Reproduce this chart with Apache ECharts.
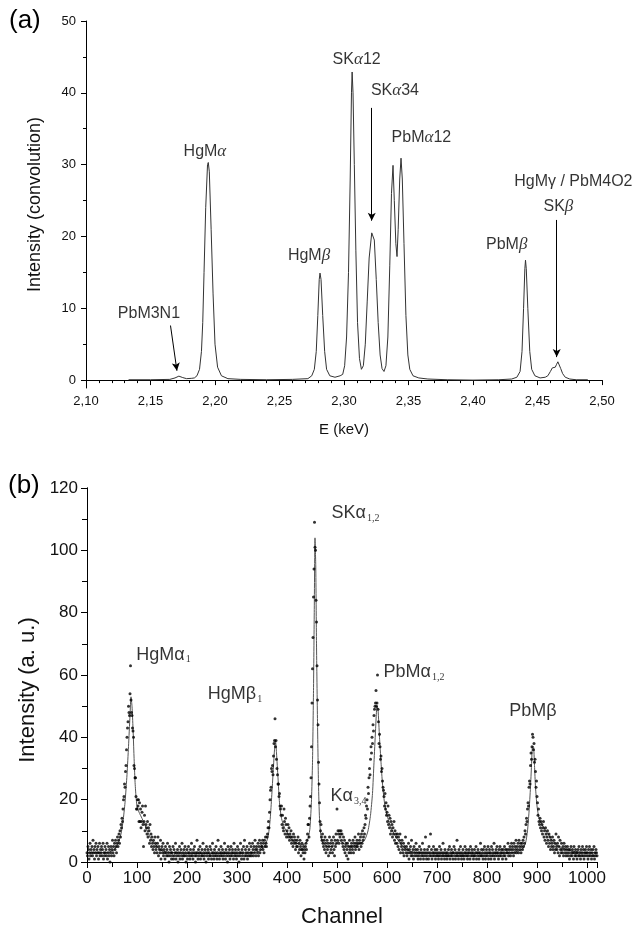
<!DOCTYPE html>
<html><head><meta charset="utf-8">
<script src="https://cdn.jsdelivr.net/npm/echarts@6/dist/echarts.min.js"></script>
<style>html,body{margin:0;padding:0;background:#fff}#c{width:638px;height:929px}</style>
</head><body><div id="c"></div>
<script>
// ---------- (a) convolution spectrum ----------
const convE = [2.133,2.150,2.165,2.169,2.172,2.175,2.178,2.182,2.184,2.186,2.188,2.1895,2.1905,2.1915,2.1928,2.1942,2.1948,2.1956,2.197,2.1985,2.200,2.202,2.205,2.210,2.220,2.240,2.260,2.272,2.275,2.277,2.2785,2.2797,2.2808,2.2814,2.2822,2.2835,2.285,2.2865,2.289,2.293,2.297,2.299,2.3005,2.302,2.3035,2.3048,2.3058,2.3063,2.307,2.308,2.3092,2.3105,2.312,2.3135,2.315,2.3165,2.318,2.3195,2.3215,2.3225,2.3235,2.325,2.3265,2.328,2.3295,2.331,2.3325,2.334,2.3355,2.3368,2.338,2.339,2.3402,2.3411,2.342,2.3432,2.3442,2.3452,2.3465,2.348,2.3495,2.351,2.3535,2.358,2.365,2.380,2.400,2.420,2.430,2.434,2.4365,2.438,2.4392,2.4402,2.4407,2.4413,2.4425,2.444,2.4455,2.448,2.452,2.456,2.458,2.460,2.4615,2.4628,2.4638,2.4648,2.4658,2.4668,2.468,2.4695,2.4715,2.475,2.480,2.489];
const convI = [0.05,0.05,0.1,0.3,0.55,0.35,0.2,0.25,0.3,0.6,1.5,4,8,15,24,30.0,30.3,29,21,12,5,1.8,0.6,0.2,0.1,0.05,0.1,0.2,0.6,1.5,4,9,14,14.9,14,9,4,1.5,0.6,0.4,0.6,0.8,2,6,15,28,40,42.9,40,30,18,8,3,1.5,2,5,11,17,20.5,20.7,19.5,14,8,3.5,1.6,1.2,2,6,16,26,29.9,25,19,17.2,21,28,30.9,28,19,9,3.5,1.5,0.6,0.3,0.15,0.05,0.0,0.05,0.15,0.4,1.2,4,10,15.5,16.7,15.5,10,4,1.5,0.6,0.3,0.4,0.6,1.2,1.7,1.85,1.8,2.2,2.55,2.3,1.6,0.9,0.4,0.15,0.05,0.05];
const labelsA = ['PbM3N1','HgM{i|α}','HgM{i|β}','SK{i|α}12','SK{i|α}34','PbM{i|α}12','PbM{i|β}','HgMγ / PbM4O2','SK{i|β}'];
const labelsAE = [2.1488,2.1922,2.2729,2.3098,2.3395,2.360,2.4261,2.4778,2.4662];
const labelsAI = [9.3,31.8,17.4,44.6,40.3,33.8,18.9,27.6,24.1];
const arrowsA = [[[2.1655,7.6],[2.1705,1.3]],[[2.3215,37.9],[2.3215,22.2]],[[2.4649,22.3],[2.4649,3.2]]];
const ticksA_x = {min:2.10,max:2.50,step:0.05};
const ticksA_y = [0,10,20,30,40,50];
const minorA_y = [5,15,25,35,45];

// ---------- (b) measured spectrum (counts per channel, channel = index) ----------
const counts = [
// 0
3,2,5,4,1,3,6,2,4,3, 5,2,7,3,4,1,5,3,6,2, 4,3,5,1,3,6,2,4,3,5, 2,4,6,1,3,2,5,3,4,2, 6,1,3,5,2,4,0,3,5,2,
// 50
4,7,3,5,2,6,4,7,5,3, 6,8,5,7,9,6,10,8,12,11,
// 70
14,13,17,20,21,25,24,29,31,36, 40,43,45,50,48,47,54,63,52,48, 47,43,42,40,31,30,27,27,21,17,
// 100
17,20,18,20,13,19,13,17,11,13, 16,18,12,5,13,15,10,18,12,11, 9,13,8,11,10,6,12,7,9,5,
// 130
8,6,4,7,5,3,8,6,4,5, 3,6,8,2,5,4,3,7,1,4, 5,3,6,2,4,3,1,5,3,2, 4,6,2,3,0,5,2,4,3,1,
// 170
3,2,5,1,4,2,3,6,1,3, 2,4,0,3,2,5,1,3,4,2, 6,1,3,2,4,2,5,3,0,2, 4,1,3,5,2,3,1,4,2,6,
3,2,1,4,3,5,2,0,3,2, 7,3,1,4,2,3,5,1,3,2, 4,2,6,3,1,2,4,3,0,5, 2,3,4,1,3,2,5,2,4,1,
3,6,2,3,1,4,2,3,5,2, 1,3,7,2,4,1,3,2,5,3, 2,4,1,3,2,6,3,1,4,2, 3,0,5,2,3,4,1,2,5,3,
2,4,3,1,6,2,3,4,2,1, 3,5,2,4,0,3,2,6,3,1, 4,2,3,5,1,7,2,4,3,2, 5,1,3,2,4,6,2,3,5,2,
3,6,4,2,5,3,7,4,2,5, 4,3,6,2,5,7,3,4,6,5,
// 350
5,7,4,6,3,7,5,8,6,5, 8,9,11,13,11,16,20,23,24,30, 29,31,28,34,38,39,46,37,39,33, 30,28,25,25,21,22,18,17,15,18, 12,15,11,10,17,13,9,14,12,8,
// 400
10,9,12,8,11,7,9,8,10,6, 8,7,5,9,6,8,7,4,6,5, 7,5,8,3,6,4,7,5,2,4, 6,4,3,5,1,4,3,5,6,4, 7,9,12,12,8,14,
// 446
18,21,27,37,51,62,72,85,94,109,101,100,84,77,63,52,44,32,25,19,13,10,12,8,7,
// 471
9,6,5,7,4,8,6,3,5,7, 4,6,2,5,8,3,6,4,7,5, 3,6,8,4,2,7,5,9,6,
// 500
17,7,10,9,6,10,8,9,10,7, 9,6,5,8,4,7,3,5,6,2, 4,6,1,5,3,7,4,5,3,6, 5,4,7,3,6,5,8,4,6,5, 7,5,6,9,4,7,6,8,5,9,
// 550
6,10,7,8,11,9,12,15,14,18, 20,17,24,22,27,30,28,33,37,35, 40,38,44,42,47,49,50,51,55,50, 51,60,49,45,38,41,37,33,34,29, 30,26,24,23,21,18,22,17,19,15,
// 600
16,13,18,12,15,11,14,9,13,10, 12,8,11,9,13,7,10,6,9,8, 6,9,5,8,4,7,9,3,6,5, 7,4,3,6,2,5,4,8,3,5, 2,4,3,6,1,4,3,5,2,7, 3,2,4,1,5,3,2,4,6,3,
// 660
2,4,1,3,2,5,3,1,4,2, 3,6,2,1,3,4,2,8,3,1, 2,4,3,1,5,2,3,9,2,4, 1,3,2,5,3,2,4,1,3,2,
4,2,3,1,2,5,3,2,4,1, 3,2,6,2,3,1,4,2,3,2, 1,3,2,4,2,5,1,3,2,4, 2,3,1,3,5,2,4,1,3,2,
7,2,3,1,4,2,3,5,2,1, 3,2,4,2,1,3,5,2,3,4, 2,1,3,2,4,3,1,5,2,3, 4,2,3,1,2,4,2,3,5,1,
3,2,4,3,1,2,3,6,2,4, 2,3,1,4,2,5,3,1,2,4, 3,2,5,1,3,4,2,3,1,5, 2,4,3,2,6,1,3,2,4,3,
5,2,3,1,4,2,5,3,2,4, 3,1,4,2,3,5,2,4,1,3, 4,3,6,2,4,3,5,2,4,6, 3,5,4,2,6,3,5,4,7,3,
5,4,6,3,7,5,4,6,3,5,
// 870
6,4,7,5,8,6,10,9,12,14, 13,17,19,18,24,26,25,31,35,33, 37,41,40,36,38,32,33,29,24,26, 21,19,15,17,13,12,14,11,13,10, 12,9,11,13,8,10,7,11,9,6, 8,10,7,5,9,6,8,4,7,5,
// 930
6,8,4,5,7,3,6,4,9,5, 4,6,3,8,5,2,7,4,3,6, 4,3,5,2,6,4,3,5,2,4, 3,5,2,4,3,1,4,2,5,3, 2,4,3,1,5,3,2,4,2,3, 1,3,4,2,5,2,3,1,4,2, 3,5,2,4,1,3,2,4,3,5, 2,3,1,4,2,5,3,2,4,1,
3,2,4,2,5,1,3,2,4,3,2
];
const fitCh = [0,20,40,55,62,68,72,76,80,83,86,88,90,92,94,96,98,100,104,110,118,126,135,145,160,200,250,300,330,345,355,362,366,369,372,375,377,379,382,385,389,395,402,410,420,430,438,443,446,449,451,453,454.5,456,457.5,459,461,463,465,468,472,480,490,500,505,512,525,540,555,562,567,571,574,577,580,582,585,588,591,595,600,606,614,622,632,645,660,700,800,850,870,877,881,884,887,889,891,893,895,897,900,904,910,918,926,935,950,970,1000,1020];
const fitI  = [3,3,3,4,6,9,13,19,28,37,47,53,50,43,34,26,21,18,16,14,11,8,6,4,3.2,2.8,2.7,2.8,3,3.5,5,8,13,20,28,36,39,35,27,19,14,11,9,7,6,5.5,6,8,11,20,32,55,80,104,95,70,45,25,14,8,6,5,5,6,7,6,5,5.5,7,10,15,22,32,42,50,49,40,32,25,19,15,12,9,7,5,3.5,3,2.8,2.8,3,4,6,10,16,24,31,37,37,31,24,18,14,12,10,8,6,4.5,3.5,3,3];
const labelsB = ['HgMα{s|1}','HgMβ{s|1}','SKα{s|1,2}','Kα{s|3,4}','PbMα{s|1,2}','PbMβ'];
const labelsBCh = [153,296,537,523,654,892];
const labelsBI = [66.5,53.8,112,21.2,60.8,48.4];

const FONT = '"Liberation Sans", Arial, Helvetica, sans-serif';
const SERIF = '"Liberation Serif", "DejaVu Serif", serif';
const chart = echarts.init(document.getElementById('c'), null, {renderer:'canvas'});

const axLine = {show:true, lineStyle:{color:'#000', width:1}};
const convData = convE.map((e,i)=>[e, convI[i]]);
const scatterData = counts.map((v,i)=>[i, v]);
const fitData = fitCh.map((c,i)=>[c, fitI[i]]);
const clear = 'rgba(0,0,0,0)';

const option = {
  animation:false,
  backgroundColor:'#fff',
  textStyle:{fontFamily:FONT},
  title:[
    {text:'(a)', left:9, top:8, padding:0, textStyle:{fontSize:26, fontWeight:'normal', color:'#000', fontFamily:FONT}},
    {text:'(b)', left:8, top:473, padding:0, textStyle:{fontSize:26, fontWeight:'normal', color:'#000', fontFamily:FONT}}
  ],
  grid:[
    {left:86, right:36, top:21, height:367},
    {left:87, right:41, top:488, height:375}
  ],
  xAxis:[
    {gridIndex:0, type:'value', min:ticksA_x.min, max:ticksA_x.max, interval:ticksA_x.step,
     axisLine:axLine, splitLine:{show:false},
     axisTick:{show:true, inside:false, length:5, lineStyle:{color:'#000'}},
     minorTick:{show:true, splitNumber:5, length:3, lineStyle:{color:'#000'}},
     axisLabel:{fontSize:13, color:'#111', margin:7, fontFamily:FONT,
       formatter:v=>{const k=Math.round(v*20); return Math.abs(v*20-k)<1e-6 ? (k/20).toFixed(2).replace('.',',') : '';}},
     name:'E (keV)', nameLocation:'middle', nameGap:34, nameTextStyle:{fontSize:15, color:'#111', fontFamily:FONT}},
    {gridIndex:1, type:'value', min:0, max:1020, interval:100, position:'bottom',
     axisLine:axLine, splitLine:{show:false},
     axisTick:{show:true, inside:false, length:6, lineStyle:{color:'#000'}},
     minorTick:{show:true, splitNumber:2, length:5, lineStyle:{color:'#000'}},
     axisLabel:{fontSize:17, color:'#111', margin:8, fontFamily:FONT, formatter:v=> (v%100===0 ? String(v) : '')},
     name:'Channel', nameLocation:'middle', nameGap:44, nameTextStyle:{fontSize:22, color:'#111', fontFamily:FONT}},
    {gridIndex:1, type:'value', min:0, max:1020, interval:100, position:'top',
     axisLine:axLine, splitLine:{show:false}, axisLabel:{show:false},
     axisTick:{show:true, inside:true, length:6, lineStyle:{color:'#000'}},
     minorTick:{show:true, splitNumber:2, length:5, lineStyle:{color:'#000'}}}
  ],
  yAxis:[
    {gridIndex:0, type:'value', min:-1.1, max:50,
     axisLine:axLine, splitLine:{show:false},
     axisTick:{show:true, inside:false, length:5, lineStyle:{color:'#000'}, customValues:ticksA_y},
     axisLabel:{fontSize:13, color:'#111', margin:10, fontFamily:FONT, customValues:ticksA_y},
     name:'Intensity (convolution)', nameLocation:'middle', nameGap:42, nameTextStyle:{fontSize:18, color:'#111', fontFamily:FONT}},
    {gridIndex:1, type:'value', min:0, max:120, interval:20, position:'left',
     axisLine:axLine, splitLine:{show:false},
     axisTick:{show:true, inside:false, length:6, lineStyle:{color:'#000'}},
     minorTick:{show:true, splitNumber:2, length:5, lineStyle:{color:'#000'}},
     axisLabel:{fontSize:17, color:'#111', margin:9, fontFamily:FONT},
     name:'Intensity (a. u.)', nameLocation:'middle', nameGap:48, nameTextStyle:{fontSize:22, color:'#111', fontFamily:FONT, padding:[0,30,0,0]}},
    {gridIndex:1, type:'value', min:0, max:120, interval:20, position:'right',
     axisLine:axLine, splitLine:{show:false}, axisLabel:{show:false},
     axisTick:{show:true, inside:true, length:6, lineStyle:{color:'#000'}},
     minorTick:{show:true, splitNumber:2, length:5, lineStyle:{color:'#000'}}},
    {gridIndex:0, type:'value', min:-1.1, max:50, position:'left',
     axisLine:{show:false}, splitLine:{show:false}, axisLabel:{show:false},
     axisTick:{show:true, inside:false, length:3, lineStyle:{color:'#000'}, customValues:minorA_y}}
  ],
  series:[
    {type:'line', xAxisIndex:0, yAxisIndex:0, data:convData, showSymbol:false, symbol:'none',
     lineStyle:{color:'#333', width:1}, silent:true,
     markLine:{silent:true, symbol:['none','arrow'], symbolSize:[6,8], animation:false,
       lineStyle:{color:'#000', width:1, type:'solid'}, label:{show:false},
       data: arrowsA.map(a=>[{coord:a[0]},{coord:a[1]}])}},
    {type:'scatter', xAxisIndex:0, yAxisIndex:0, symbolSize:1, itemStyle:{color:clear}, silent:true,
     data: labelsA.map((t,i)=>({value:[labelsAE[i], labelsAI[i]], name:t})),
     label:{show:true, position:'inside', align:'center', verticalAlign:'middle', formatter:p=>p.name,
       fontSize:16, color:'#000', textBorderWidth:0, fontFamily:FONT,
       rich:{i:{fontSize:17, fontStyle:'italic', fontFamily:SERIF, color:'#000', textBorderWidth:0}}}},
    {type:'line', xAxisIndex:1, yAxisIndex:1, data:fitData, showSymbol:false, symbol:'none', smooth:0.2,
     lineStyle:{color:'#555', width:1}, silent:true, z:2},
    {type:'scatter', xAxisIndex:1, yAxisIndex:1, data:scatterData, symbol:'circle', symbolSize:3,
     itemStyle:{color:'#000'}, silent:true, z:3},
    {type:'scatter', xAxisIndex:1, yAxisIndex:1, symbolSize:1, itemStyle:{color:clear}, silent:true,
     data: labelsB.map((t,i)=>({value:[labelsBCh[i], labelsBI[i]], name:t})),
     label:{show:true, position:'inside', align:'center', verticalAlign:'middle', formatter:p=>p.name,
       fontSize:18, color:'#000', textBorderWidth:0, fontFamily:FONT,
       rich:{s:{fontSize:10, fontFamily:SERIF, color:'#000', textBorderWidth:0, padding:[10,0,0,1]}}}}
  ]
};
chart.setOption(option);
</script></body></html>
